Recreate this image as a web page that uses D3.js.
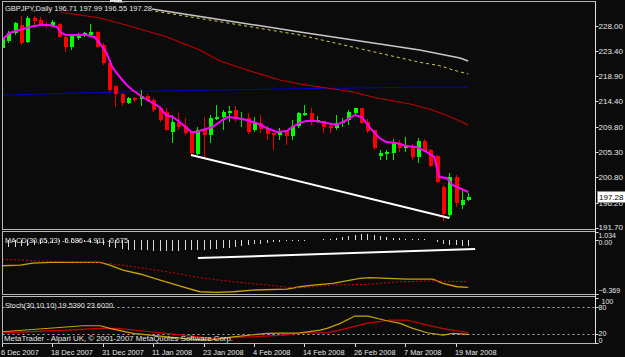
<!DOCTYPE html>
<html>
<head>
<meta charset="utf-8">
<script src="https://cdn.jsdelivr.net/npm/d3@7"></script>
<style>
  body { margin: 0; background: #0b0b0b; }
  svg text { font-family: "Liberation Sans", Arial, sans-serif; font-size: 8px; fill: #e6e6e6; }
</style>
</head>
<body>
<svg id="chart" width="625" height="357"></svg>
<script>
// ---- data (bar 0 = 6 Dec 2007, bar 74 = 21 Mar 2008) ----
var opens = [223.99,225.25,226.69,228.13,225.07,229.38,229.02,228.31,227.95,228.31,
  225.97,224.17,225.79,226.15,226.33,226.87,224.53,221.30,217.17,215.73,
  214.11,215.01,214.83,215.37,214.65,213.21,212.49,208.90,210.69,209.98,
  208.90,204.95,209.26,208.36,211.23,211.59,212.31,212.85,211.05,211.41,
  209.26,210.51,209.62,208.72,208.36,209.26,208.18,209.98,211.95,212.31,
  210.69,210.87,209.98,209.62,210.51,211.05,212.31,213.21,210.69,209.26,
  204.59,204.95,205.13,206.92,206.02,206.20,204.41,207.28,205.66,204.59,
  199.02,193.99,200.81,195.78,196.71];
var highs = [226.15,227.05,228.66,229.74,229.74,229.74,229.56,228.66,229.02,228.49,
  226.33,226.33,226.69,226.87,228.31,227.05,224.89,221.30,217.34,215.91,
  215.19,215.19,216.45,215.73,215.01,213.57,213.21,211.95,212.31,211.41,
  209.08,209.80,211.59,211.95,213.75,212.85,213.57,213.57,212.49,212.31,
  211.59,211.95,209.98,208.72,209.62,209.26,211.05,212.49,213.75,213.21,
  211.77,210.87,210.51,211.95,211.41,212.85,213.21,213.21,211.23,209.26,
  205.66,205.66,207.64,207.46,208.00,206.74,207.82,207.64,205.84,204.77,
  199.38,201.53,201.17,198.48,197.99];
var lows = [223.63,224.89,226.33,224.53,224.89,228.13,227.95,227.59,227.77,225.79,
  223.27,223.63,225.43,225.97,225.97,223.99,220.94,216.09,213.39,213.57,
  213.93,214.29,213.57,214.29,212.49,210.69,209.08,206.92,209.26,208.36,
  204.77,204.77,204.41,206.92,211.05,209.26,210.69,210.69,209.80,208.54,
  208.90,208.72,207.46,205.66,207.46,206.56,207.46,209.62,211.77,210.16,
  210.51,208.72,208.72,209.26,209.80,210.16,211.95,210.34,208.72,205.66,
  203.87,203.87,203.87,205.31,205.31,203.87,203.33,205.31,202.61,199.73,
  192.90,193.45,195.42,195.06,196.55];
var closes = [225.79,226.69,228.49,224.89,229.38,228.84,228.13,227.95,228.66,225.97,
  224.17,226.15,226.15,226.69,226.87,224.17,221.30,216.45,215.73,214.11,
  215.01,214.65,215.37,214.65,212.85,211.05,209.26,210.69,209.80,208.72,
  205.13,209.26,208.36,211.41,211.59,212.49,212.67,211.23,211.41,208.90,
  210.51,209.44,208.54,208.36,208.90,208.18,209.98,212.31,212.31,211.05,
  211.05,209.80,209.62,210.51,210.69,212.49,213.21,210.51,209.08,206.02,
  205.13,205.31,206.92,206.02,206.56,204.41,207.28,205.49,202.79,199.91,
  194.16,200.81,196.14,196.68,197.28];

// moving averages as [bar, price] readings
var maFast = [[0,225.43],[1.2,226.69],[2.8,227.23],[4.4,227.77],[6,228.13],[7.5,228.13],[8.7,227.77],
  [9.4,226.69],[10.2,226.33],[11.8,226.33],[13.4,226.33],[14.7,225.97],[15.5,224.89],[16.6,223.09],
  [17.5,220.58],[18.7,218.78],[19.8,217.34],[20.7,216.45],[22.3,215.19],[23.9,214.11],[25,213.39],
  [26,211.95],[27.1,211.59],[28.2,210.69],[29.3,209.62],[30.1,208.90],[30.9,208.90],[31.8,209.26],
  [33.4,209.80],[35,211.05],[35.8,211.59],[37.2,211.41],[38.8,211.05],[40.4,210.51],[42,209.62],
  [43.6,208.90],[45.2,209.08],[46.1,209.80],[47.2,210.51],[48.3,210.87],[49.9,210.87],[51.5,210.51],
  [53.1,210.16],[54.7,211.05],[56,211.95],[57.1,211.59],[58.3,209.80],[59.9,207.82],[61,207.10],
  [62.6,206.92],[64.2,206.38],[65.8,206.20],[67.4,205.31],[68.6,204.41],[69.4,200.81],[70.6,200.63],
  [71.5,199.38],[72.6,198.84],[74,198.12]];
var maRed = [[2,231.8],[9.7,230.37],[15.6,229.38],[20.8,227.77],[26.2,225.97],[31.4,223.63],[34.6,221.66],
  [39.4,219.86],[44.1,218.24],[47.3,217.52],[51.6,216.80],[55.7,216.08],[59.5,215.01],[64.8,213.93],
  [68.4,212.85],[71.6,211.41],[74,210.16]];
var maGray = [[15,233.0],[23.8,231.00],[33,229.38],[47.3,226.87],[66.3,223.63],[72.7,222.20],[74,221.66]];
var maYellow = [[15,232.8],[23.8,230.70],[33,229.02],[47.3,226.33],[66.3,221.42],[69.5,220.81],[71.6,220.04],[74,219.32]];
var maBlue = [[0,215.49],[9.2,215.82],[15.6,216.00],[25.1,216.27],[34.6,216.45],[47.3,216.68],[64.8,216.93],[74,216.93]];
var priceTrend = [[30,204.77],[71,193.45]];

var macdMain = [[0,-3.02],[2.9,-2.94],[4.9,-2.70],[7.6,-2.62],[15.6,-2.62],[17.1,-2.94],[19.2,-3.53],
  [21.9,-4.00],[25.1,-4.72],[28.3,-5.43],[31.4,-6.10],[34.1,-6.17],[36.7,-6.10],[39.8,-5.90],[45.2,-5.78],
  [47.3,-5.51],[49.4,-5.31],[52.5,-5.11],[56.8,-4.51],[58.4,-4.44],[64.3,-4.60],[68.4,-4.60],[70,-5.11],
  [72.2,-5.51],[74,-5.586]];
var macdSignal = [[0,-2.23],[4.9,-2.43],[10.3,-2.55],[15.6,-2.62],[20.8,-3.14],[26.2,-3.73],[31.4,-4.44],
  [36.7,-4.92],[42.1,-5.31],[45.7,-5.60],[47.3,-5.63],[52.5,-5.31],[57.9,-5.23],[63.2,-4.92],[68.4,-4.83],[74,-4.911]];
var macdHist = [-0.8,-0.8,-0.75,-0.7,-0.65,-0.55,-0.45,-0.35,-0.3,-0.25,
  -0.2,-0.2,-0.2,-0.25,-0.3,-0.4,-0.6,-0.8,-0.95,-1.05,
  -1.1,-1.15,-1.2,-1.2,-1.25,-1.25,-1.25,-1.25,-1.25,-1.2,
  -1.2,-1.15,-1.1,-1.05,-1.0,-0.95,-0.9,-0.8,-0.7,-0.6,
  -0.5,-0.4,-0.3,-0.25,-0.2,-0.15,-0.1,-0.05,-0.05,0.05,
  0.05,0.1,0.15,0.25,0.4,0.55,0.65,0.7,0.7,0.6,
  0.45,0.35,0.3,0.25,0.2,0.15,0.1,0.1,0.05,-0.2,
  -0.4,-0.55,-0.6,-0.65,-0.675];
var macdTrend = [[31.1,-2.11],[75.1,-1.04]];

var stochMain = [[0,25.2],[12.9,38.7],[15.6,38.7],[17.1,32.8],[20.8,21.6],[26.2,13.9],[30.3,8.1],[33,6.5],
  [36.7,13.9],[42.1,21.6],[47.3,22.9],[50.5,29.0],[51.6,32.8],[53.7,44.0],[56,60.4],[58.1,60.4],
  [61.1,49.9],[63.2,44.0],[65.2,32.8],[67.5,22.9],[70,17.8],[71.6,21.6],[74,19.539]];
var stochSignal = [[0,22.9],[10.3,29.0],[15.6,32.8],[18.3,32.8],[23.5,25.2],[28.7,17.8],[33.5,10.3],
  [39.4,13.9],[44.6,17.8],[47.3,22.9],[51.6,22.9],[54.1,30.6],[57.9,44.0],[61.6,51.5],[64.3,51.5],
  [67.5,40.2],[70.6,30.6],[74,23.602]];

var priceTicks = [228.00, 223.40, 218.90, 214.40, 209.80, 205.30, 200.80, 196.20, 191.70];
var macdTicks = [1.034, 0, -6.369];
var stochTicks = [100, 80, 20, 0];
var stochLevels = [80, 20];
var dateBars = [0, 8, 16, 24, 32, 40, 48, 56, 64, 72];
var dateLabels = ["6 Dec 2007", "18 Dec 2007", "31 Dec 2007", "11 Jan 2008", "23 Jan 2008",
  "4 Feb 2008", "14 Feb 2008", "26 Feb 2008", "7 Mar 2008", "19 Mar 2008"];

// ---- layout ----
var W = 625, H = 357, L = 2.5, R = 595.5;
var panels = {main: [1.5, 229.5], macd: [231.5, 294.5], stoch: [296.5, 343.5]};

var svg = d3.select("#chart");
svg.append("rect").attr("width", W).attr("height", H).attr("fill", "#0b0b0b");

var x = d3.scaleLinear().domain([0, 74]).range([2, 2 + 6.3 * 74]);
var yP = d3.scaleLinear().domain([191.7, 228]).range([227.7, 25.7]);
var yM = d3.scaleLinear().domain([-6.369, 1.034]).range([294, 231.5]);
var yS = d3.scaleLinear().domain([0, 100]).range([343, 298.4]);

var defs = svg.append("defs");
Object.keys(panels).forEach(function(k) {
  defs.append("clipPath").attr("id", "clip-" + k).append("rect")
    .attr("x", L).attr("y", panels[k][0]).attr("width", R - L).attr("height", panels[k][1] - panels[k][0]);
});

function drawLine(g, data, y, color, width, dash) {
  g.append("path").datum(data)
    .attr("d", d3.line().x(function(d) { return x(d[0]); }).y(function(d) { return y(d[1]); }))
    .attr("fill", "none").attr("stroke", color).attr("stroke-width", width)
    .attr("stroke-dasharray", dash || null);
}
// squeeze a label to the width it has in the picture (the original font is narrower)
function fitText(t, width) {
  t.attr("textLength", width).attr("lengthAdjust", "spacingAndGlyphs");
  return t;
}

// ---- main price panel ----
var gMain = svg.append("g").attr("clip-path", "url(#clip-main)");
drawLine(gMain, maBlue, yP, "#0000d0", 1);
drawLine(gMain, maGray, yP, "#c8c8c8", 1.5);
drawLine(gMain, maYellow, yP, "#d8c860", 1, "3,3");
drawLine(gMain, maRed, yP, "#c00000", 1.2);

var candles = d3.range(opens.length).map(function(i) {
  return {i: i, o: opens[i], h: highs[i], l: lows[i], c: closes[i]};
});
var gC = gMain.append("g").attr("shape-rendering", "crispEdges");
gC.selectAll("line").data(candles).enter().append("line")
  .attr("x1", function(d) { return Math.round(x(d.i)) + 0.5; })
  .attr("x2", function(d) { return Math.round(x(d.i)) + 0.5; })
  .attr("y1", function(d) { return yP(d.h); })
  .attr("y2", function(d) { return yP(d.l); })
  .attr("stroke", function(d) { return d.c >= d.o ? "#00e800" : "#e80000"; });
gC.selectAll("rect").data(candles).enter().append("rect")
  .attr("x", function(d) { return Math.round(x(d.i)) - 1; })
  .attr("width", 4)
  .attr("y", function(d) { return yP(Math.max(d.o, d.c)); })
  .attr("height", function(d) { return Math.max(1, Math.abs(yP(d.o) - yP(d.c))); })
  .attr("fill", function(d) { return d.c >= d.o ? "#00ff00" : "#ff0000"; });

drawLine(gMain, maFast, yP, "#ff00ff", 2);
drawLine(gMain, priceTrend, yP, "#ffffff", 2);

// title with its black backing box
svg.append("rect").attr("x", 3).attr("y", 2.5).attr("width", 149).attr("height", 10).attr("fill", "#0b0b0b");
fitText(svg.append("text").attr("x", 5).attr("y", 11).text("GBPJPY,Daily  196.71 197.99 196.55 197.28"), 147);

// ---- MACD panel ----
var gMacd = svg.append("g").attr("clip-path", "url(#clip-macd)");
gMacd.append("g").attr("shape-rendering", "crispEdges").selectAll("line").data(macdHist).enter().append("line")
  .attr("x1", function(d, i) { return Math.round(x(i)) + 0.5; })
  .attr("x2", function(d, i) { return Math.round(x(i)) + 0.5; })
  .attr("y1", yM(0)).attr("y2", function(d) { return yM(d); })
  .attr("stroke", "#d8d8d8");
drawLine(gMacd, macdMain, yM, "#c8a400", 1.3);
drawLine(gMacd, macdSignal, yM, "#e00000", 1, "2,2");
drawLine(gMacd, macdTrend, yM, "#ffffff", 2);
fitText(svg.append("text").attr("x", 5).attr("y", 243).text("MACD(30,65,23) -5.586 -4.911 -0.675"), 123);

// ---- Stochastic panel ----
var gSt = svg.append("g").attr("clip-path", "url(#clip-stoch)");
gSt.selectAll("line").data(stochLevels).enter().append("line")
  .attr("x1", L).attr("x2", R)
  .attr("y1", function(d) { return Math.round(yS(d)) + 0.5; })
  .attr("y2", function(d) { return Math.round(yS(d)) + 0.5; })
  .attr("stroke", "#b0b0b0").attr("stroke-dasharray", "2,3");
drawLine(gSt, stochSignal, yS, "#d00000", 1.2);
drawLine(gSt, stochMain, yS, "#c8a400", 1.2);
fitText(svg.append("text").attr("x", 5).attr("y", 308).text("Stoch(30,10,10) 19.5390 23.6020"), 108);
fitText(svg.append("text").attr("x", 4).attr("y", 341).attr("fill", "#d8d8d8")
  .text("MetaTrader - Alpari UK, \u00a9 2001-2007 MetaQuotes Software Corp."), 229);

// ---- frames ----
Object.keys(panels).forEach(function(k) {
  svg.append("rect").attr("x", L).attr("y", panels[k][0]).attr("width", R - L)
    .attr("height", panels[k][1] - panels[k][0])
    .attr("fill", "none").attr("stroke", "#b8b8b8").attr("shape-rendering", "crispEdges");
});
svg.append("rect").attr("x", 110).attr("y", 0).attr("width", 12).attr("height", 2).attr("fill", "#e0e0e0");

// ---- right axes ----
var gAx = svg.append("g").attr("shape-rendering", "crispEdges");
gAx.append("line").attr("x1", R).attr("x2", R).attr("y1", 1.5).attr("y2", 343.5).attr("stroke", "#e0e0e0");

// labels sit next to their value, kept inside the panel and nudged apart where they crowd
function axisLabels(ticks, y, fmt, place, size) {
  var g = svg.append("g");
  g.selectAll("line").data(ticks).enter().append("line")
    .attr("x1", R).attr("x2", R + 3)
    .attr("y1", function(d) { return Math.round(y(d)) + 0.5; })
    .attr("y2", function(d) { return Math.round(y(d)) + 0.5; })
    .attr("stroke", "#e0e0e0");
  g.selectAll("text").data(ticks).enter().append("text")
    .attr("x", function(d, i) { return place ? place[i][0] : 598.5; })
    .attr("y", function(d, i) { return place ? place[i][1] : Math.min(y(d) + 3, 229.5); })
    .style("font-size", size || null)
    .text(fmt);
}
axisLabels(priceTicks, yP, d3.format(".2f"));
axisLabels(macdTicks, yM, function(d) { return d === 0 ? "0.00" : d3.format(".3f")(d); },
  [[598.5, 238], [598.5, 245], [598.5, 292.5]], "7px");
axisLabels(stochTicks, yS, d3.format("d"),
  [[601.5, 303.5], [598.5, 310], [598.5, 336], [598.5, 342.5]], "7px");

// current price box
var last = closes[closes.length - 1];
svg.append("rect").attr("x", 597).attr("y", yP(last) - 5.5).attr("width", 28).attr("height", 11)
  .attr("fill", "#ffffff").attr("stroke", "#888").attr("shape-rendering", "crispEdges");
svg.append("text").attr("x", 599).attr("y", yP(last) + 3).style("fill", "#000")
  .text(last.toFixed(2));

// ---- date axis ----
var gD = svg.append("g");
gD.selectAll("line").data(dateBars).enter().append("line")
  .attr("x1", function(d) { return Math.round(x(d)) + 0.5; })
  .attr("x2", function(d) { return Math.round(x(d)) + 0.5; })
  .attr("y1", 343.5).attr("y2", 347).attr("stroke", "#e0e0e0").attr("shape-rendering", "crispEdges");
gD.selectAll("text").data(dateBars).enter().append("text")
  .attr("x", function(d) { return Math.round(x(d)) - 1; })
  .attr("y", 355)
  .style("font-size", "7.4px")
  .text(function(d, i) { return dateLabels[i]; });
</script>
</body>
</html>
